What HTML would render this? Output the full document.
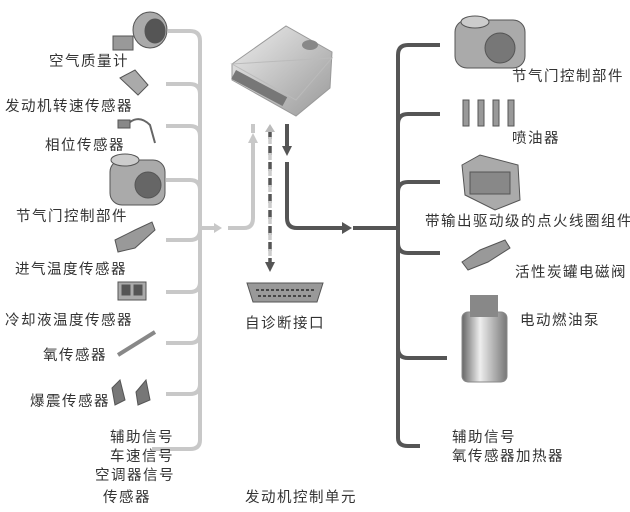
<!DOCTYPE html>
<html><head><meta charset="utf-8"><style>
html,body{margin:0;padding:0;background:#fff;}
svg{display:block;}
text{font-family:"Liberation Sans","Noto Sans CJK SC",sans-serif;font-size:14.5px;fill:#333;letter-spacing:1.5px;}
</style></head><body>
<svg width="630" height="512" viewBox="0 0 630 512" xmlns="http://www.w3.org/2000/svg">
<defs>
<linearGradient id="g1" x1="0" y1="0" x2="1" y2="1"><stop offset="0" stop-color="#eee"/><stop offset="1" stop-color="#999"/></linearGradient>
<linearGradient id="cyl" x1="0" y1="0" x2="1" y2="0"><stop offset="0" stop-color="#666"/><stop offset="0.4" stop-color="#eee"/><stop offset="1" stop-color="#777"/></linearGradient>
</defs>
<!-- left bus (light gray) -->
<g fill="none" stroke="#c8c8c8" stroke-width="4">
<path d="M168 31 H190 Q200 31 200 41 V440 Q200 449 190 449 H152"/>
<path d="M166 84 H190 Q200 84 200 94"/>
<path d="M166 126 H190 Q200 126 200 136"/>
<path d="M166 180 H190 Q200 180 200 190"/>
<path d="M166 240 H190 Q200 240 200 230"/>
<path d="M166 292 H190 Q200 292 200 282"/>
<path d="M166 343 H190 Q200 343 200 333"/>
<path d="M166 394 H190 Q200 394 200 384"/>
<path d="M200 228 H214"/>
<path d="M228 228 H244 Q253 228 253 218 V140"/>
<path d="M253 133 V124"/>
</g>
<polygon points="214,223 222,228 214,233" fill="#c8c8c8"/>
<polygon points="248,143 253,133 258,143" fill="#c8c8c8"/>
<!-- dashed -->
<line x1="270" y1="130" x2="270" y2="262" stroke="#555" stroke-width="3.5" stroke-dasharray="9,7"/>
<line x1="270" y1="130" x2="270" y2="262" stroke="#ccc" stroke-width="3.5" stroke-dasharray="7,9" stroke-dashoffset="9"/>
<polygon points="265,132 270,124 275,132" fill="#bbb"/>
<polygon points="265,262 270,272 275,262" fill="#555"/>
<!-- dark output -->
<g fill="none" stroke="#555" stroke-width="4">
<path d="M287 124 V146"/>
<path d="M287 162 V218 Q287 228 297 228 H342"/>
<path d="M353 228 H398"/>
<path d="M440 45 H408 Q398 45 398 55 V438 Q398 446 408 446 H420"/>
<path d="M440 114 H408 Q398 114 398 124"/>
<path d="M440 182 H408 Q398 182 398 192"/>
<path d="M440 253 H408 Q398 253 398 243"/>
<path d="M447 358 H408 Q398 358 398 348"/>
</g>
<polygon points="282,146 287,156 292,146" fill="#555"/>
<polygon points="342,222 352,228 342,234" fill="#555"/>
<!-- ECU -->
<polygon points="232,64 286,26 332,52 330,88 296,116 232,80" fill="url(#g1)" stroke="#999"/>
<polygon points="232,64 296,100 332,58" fill="none" stroke="#bbb"/>
<rect x="236" y="70" width="58" height="10" fill="#777" transform="rotate(28 236 70)"/>
<ellipse cx="310" cy="45" rx="8" ry="5" fill="#888"/>
<!-- left icons -->
<g fill="#888" stroke="#555" stroke-width="1">
<ellipse cx="150" cy="30" rx="17" ry="18" fill="#aaa"/><ellipse cx="155" cy="31" rx="10" ry="12" fill="#555"/>
<rect x="113" y="36" width="20" height="14" fill="#999"/>
<path d="M120 78 L135 70 L148 85 L138 95 Z" fill="#aaa"/>
<path d="M130 122 Q140 115 150 125 L155 143" fill="none" stroke="#666" stroke-width="2"/><rect x="118" y="120" width="12" height="8"/>
<rect x="110" y="160" width="55" height="45" rx="12" fill="#aaa"/><circle cx="148" cy="185" r="13" fill="#666"/><ellipse cx="125" cy="160" rx="14" ry="6" fill="#ccc"/>
<path d="M115 240 L135 230 L152 222 L155 230 L135 248 L118 252 Z" fill="#999"/>
<rect x="118" y="282" width="28" height="18" fill="#aaa"/><rect x="122" y="285" width="8" height="10" fill="#555"/><rect x="134" y="285" width="8" height="10" fill="#555"/>
<path d="M118 355 L155 332" stroke="#888" stroke-width="4"/>
<path d="M112 388 L120 380 L125 400 L115 405 Z" fill="#777"/><path d="M136 392 L146 380 L150 400 L138 405 Z" fill="#777"/>
<!-- right icons -->
<rect x="455" y="20" width="70" height="48" rx="12" fill="#aaa"/><circle cx="500" cy="48" r="15" fill="#777"/><ellipse cx="475" cy="22" rx="14" ry="6" fill="#ccc"/>
<rect x="463" y="100" width="6" height="26" fill="#999"/><rect x="478" y="100" width="6" height="26" fill="#999"/><rect x="493" y="100" width="6" height="26" fill="#999"/><rect x="508" y="100" width="6" height="26" fill="#999"/>
<path d="M462 165 L480 155 L518 165 L520 200 L495 210 L465 195 Z" fill="#aaa"/><rect x="470" y="172" width="40" height="22" fill="#888"/>
<path d="M462 262 L480 250 L505 240 L510 248 L488 262 L468 270 Z" fill="#999"/>
</g>
<rect x="462" y="312" width="45" height="70" rx="6" fill="url(#cyl)" stroke="#888"/>
<rect x="470" y="295" width="28" height="22" fill="#888"/>
<!-- OBD -->
<path d="M247 283 H323 L317 302 H253 Z" fill="#999" stroke="#555"/>
<line x1="256" y1="290" x2="314" y2="290" stroke="#444" stroke-width="2" stroke-dasharray="3,2"/>
<line x1="258" y1="296" x2="312" y2="296" stroke="#444" stroke-width="2" stroke-dasharray="3,2"/>
<!-- labels -->
<text x="49" y="66">空气质量计</text>
<text x="5" y="111">发动机转速传感器</text>
<text x="45" y="150">相位传感器</text>
<text x="16" y="221">节气门控制部件</text>
<text x="15" y="274">进气温度传感器</text>
<text x="5" y="325">冷却液温度传感器</text>
<text x="43" y="360">氧传感器</text>
<text x="30" y="406">爆震传感器</text>
<text x="110" y="442">辅助信号</text>
<text x="110" y="461">车速信号</text>
<text x="95" y="480">空调器信号</text>
<text x="103" y="502">传感器</text>
<text x="245" y="328">自诊断接口</text>
<text x="245" y="502">发动机控制单元</text>
<text x="512" y="81">节气门控制部件</text>
<text x="512" y="143">喷油器</text>
<text x="425" y="226">带输出驱动级的点火线圈组件</text>
<text x="515" y="277">活性炭罐电磁阀</text>
<text x="520" y="325">电动燃油泵</text>
<text x="452" y="442">辅助信号</text>
<text x="452" y="461">氧传感器加热器</text>
</svg>
</body></html>
